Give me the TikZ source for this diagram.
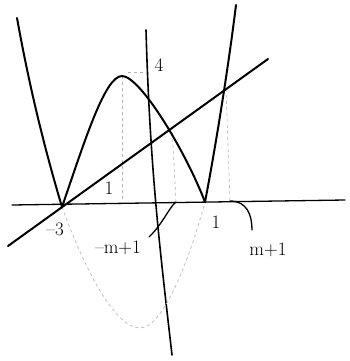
\documentclass[tikz,border=0pt]{standalone}
\begin{document}
\begin{tikzpicture}[
        x=1pt, y=-1pt,
        curve/.style={draw, line width=2pt, line cap=round, line join=round},
        axis/.style={draw, line width=1.3pt, line cap=round},
        guide/.style={draw, gray!60, dashed, line width=0.6pt},
        ghost/.style={draw, gray!50, dashed, line width=0.8pt},
        tag/.style={draw, line width=1.3pt, line cap=round},
        lbl/.style={font=\fontsize{19}{21}\selectfont, inner sep=1pt},
    ]
    \useasboundingbox (0,0) rectangle (350,361);
    \coordinate (m3) at (62,207);
    \coordinate (p1) at (205,202);
    \coordinate (top) at (122,76);
    \coordinate (bottom) at (140,328);
    \coordinate (cut1) at (172,127);
    \coordinate (cut2) at (226,89);
    \coordinate (foot0) at (122,203);
    \coordinate (foot1) at (176,202);
    \coordinate (foot2) at (230,201);
    \coordinate (ytop) at (146,30);
    \coordinate (ybot) at (172,355);
    \coordinate (mark4) at (146,72);
    \coordinate (tail1) at (149,237);
    \coordinate (tail2) at (252,230);

    \draw[axis] (12,205) -- (345,200);
    \draw[axis, line width=1.6pt] (ytop) .. controls (150,170) and (160,250) .. (ybot);

    \draw[guide] (top) -- (foot0);
    \draw[guide] (128,72) -- (mark4);
    \draw[guide] (cut1) -- (foot1);
    \draw[guide] (cut2) -- (foot2);

    \draw[ghost] (m3) .. controls (85,270) and (115,328) .. (bottom)
        .. controls (165,328) and (192,250) .. (p1);

    \draw[curve] (m3) .. controls (85,140) and (105,76) .. (top)
        .. controls (140,76) and (185,150) .. (p1);
    \draw[curve] (17,18) .. controls (30,90) and (45,150) .. (m3);
    \draw[curve] (p1) .. controls (215,150) and (228,70) .. (236,5);
    \draw[curve] (8,246) -- (268,59);

    \node[lbl](four) at (159,65) {4};
    \node[lbl](one) at (109,188) {1};
    \node[lbl](mthree) at (55,229) {\textendash3};
    \node[lbl](mmone) at (118,248) {\textendash m+1};
    \node[lbl](pone) at (216,222) {1};
    \node[lbl](mpone) at (268,250) {m+1};

    \draw[tag] (tail1) .. controls (162,225) and (170,206) .. (foot1);
    \draw[tag] (foot2) .. controls (247,201) and (252,215) .. (tail2);
\end{tikzpicture}
\end{document}
